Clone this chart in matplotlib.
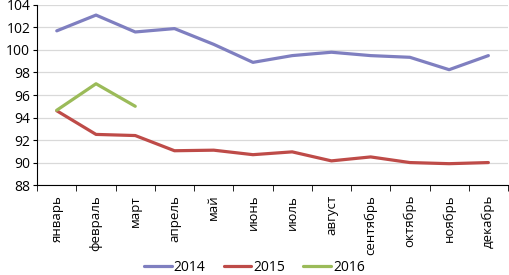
import numpy as np
import matplotlib.pyplot as plt

months = ['январь', 'февраль', 'март', 'апрель', 'май', 'июнь', 'июль',
          'август', 'сентябрь', 'октябрь', 'ноябрь', 'декабрь']
y2014 = [101.7, 103.1, 101.6, 101.9, 100.5, 98.9, 99.5, 99.8, 99.5, 99.35, 98.25, 99.5]
y2015 = [94.6, 92.5, 92.4, 91.05, 91.1, 90.7, 90.95, 90.15, 90.5, 90.0, 89.9, 90.0]
y2016 = [94.65, 97.0, 95.0]

plt.rcParams['font.family'] = ['Open Sans', 'DejaVu Sans']

fig = plt.figure(figsize=(5.09, 2.75), dpi=100)
ax = fig.add_axes([0.073, 0.327, 0.925, 0.655])

x = np.arange(len(months))
ax.plot(x, y2014, color='#7F7FC0', lw=2.3, label='2014', solid_capstyle='round')
ax.plot(x, y2015, color='#BE4B48', lw=2.3, label='2015', solid_capstyle='round')
ax.plot(x[:len(y2016)], y2016, color='#9BBB59', lw=2.3, label='2016', solid_capstyle='round')

ax.set_xlim(-0.5, len(months) - 0.5)
ax.set_ylim(88, 104)
ax.set_yticks(np.arange(88, 105, 2))
ax.yaxis.grid(True, color='#D9D9D9', lw=0.9)
ax.set_axisbelow(True)

ax.set_xticks(x)
ax.set_xticklabels(months, rotation=90, fontsize=9.5)
ax.set_xticks(np.arange(-0.5, len(months), 1), minor=True)
ax.tick_params(axis='x', which='major', length=0, pad=7)
ax.tick_params(axis='x', which='minor', length=4, color='black', direction='out')
ax.tick_params(axis='y', labelsize=10, length=3, pad=2)

for s in ['top', 'right']:
    ax.spines[s].set_visible(False)
ax.spines['left'].set_color('black')
ax.spines['bottom'].set_color('black')

fig.legend(loc='lower center', bbox_to_anchor=(0.5, -0.045), ncol=3, frameon=False,
           fontsize=10, handlelength=2.0, columnspacing=1.3, handletextpad=0.15)

fig.savefig('out.png', dpi=100)
